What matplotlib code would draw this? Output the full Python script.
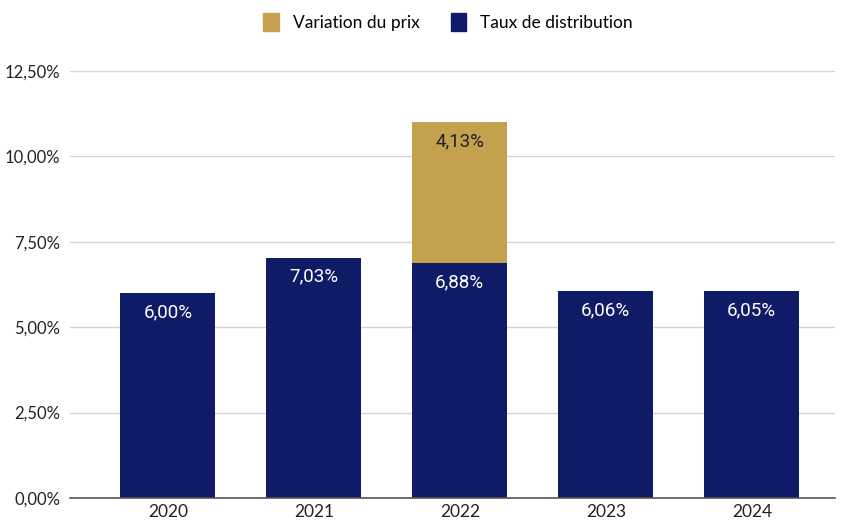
import matplotlib
matplotlib.use("Agg")
import matplotlib.pyplot as plt
from matplotlib.patches import Patch
from matplotlib.ticker import FuncFormatter

years = ["2020", "2021", "2022", "2023", "2024"]
taux_distribution = [6.00, 7.03, 6.88, 6.06, 6.05]
variation_prix = [0.0, 0.0, 4.13, 0.0, 0.0]
y_ticks = [0, 2.5, 5, 7.5, 10, 12.5]

navy = "#0F1B66"
gold = "#C4A14F"

fig = plt.figure(figsize=(8.46, 5.25), dpi=100)
ax = fig.add_axes([70/846, 27/525, (835-70)/846, (500-73)/525])

x = list(range(len(years)))
w = 0.65
ax.bar(x, taux_distribution, width=w, color=navy, zorder=3)
ax.bar(x, variation_prix, width=w, bottom=taux_distribution, color=gold, zorder=3)

def fmt(v):
    return f"{v:.2f}".replace(".", ",") + "%"

off = 19 / 34.16
for i in x:
    ax.text(i, taux_distribution[i] - off, fmt(taux_distribution[i]), ha="center", va="center",
            color="white", fontsize=13.5, family="Roboto", zorder=4)
    if variation_prix[i] > 0:
        top = taux_distribution[i] + variation_prix[i]
        ax.text(i, top - off, fmt(variation_prix[i]), ha="center", va="center",
                color="#222222", fontsize=13.5, family="Roboto", zorder=4)

ax.set_xlim(-0.67, 4.57)
ax.set_ylim(0, 12.5)
ax.set_yticks(y_ticks)
ax.yaxis.set_major_formatter(FuncFormatter(lambda v, p: fmt(v)))
ax.set_xticks(x)
ax.set_xticklabels(years)
ax.grid(axis="y", color="#D3D3D3", linewidth=1, zorder=0)
for s in ["top", "right", "left"]:
    ax.spines[s].set_visible(False)
ax.spines["bottom"].set_color("#555555")
ax.spines["bottom"].set_linewidth(1.2)
ax.spines["bottom"].set_zorder(5)
ax.tick_params(axis="both", length=0, labelsize=12.5, colors="#222222")
ax.tick_params(axis="y", pad=7, labelsize=12)
ax.tick_params(axis="x", pad=4)
for lab in ax.get_xticklabels() + ax.get_yticklabels():
    lab.set_family("Lato")

handles = [Patch(color=gold, label="Variation du prix"), Patch(color=navy, label="Taux de distribution")]
fig.legend(handles=handles, loc="center", bbox_to_anchor=(448/846, 1 - 22/525), ncol=2,
           frameon=False, prop={"family": "Lato", "size": 12.5}, handlelength=0.9,
           handleheight=1.3, columnspacing=1.8, handletextpad=0.8)

fig.savefig("out.png", dpi=100)
